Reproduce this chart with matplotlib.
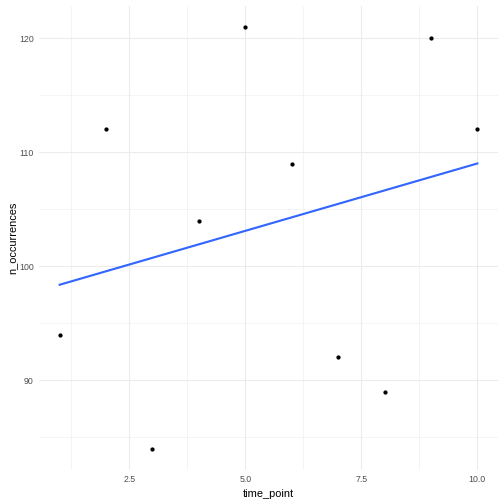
import matplotlib
matplotlib.use("Agg")
import matplotlib.pyplot as plt
import numpy as np
from matplotlib.ticker import MultipleLocator

plt.rcParams["font.family"] = ["Liberation Sans", "DejaVu Sans"]

time_point = [1, 2, 3, 4, 5, 6, 7, 8, 9, 10]
n_occurrences = [94, 112, 84, 104, 121, 109, 92, 89, 120, 112]

x = np.array(time_point, dtype=float)
y = np.array(n_occurrences, dtype=float)
slope, intercept = np.polyfit(x, y, 1)
xfit = np.linspace(x.min(), x.max(), 80)
yfit = intercept + slope * xfit

fig = plt.figure(figsize=(7, 7), dpi=72)
ax = fig.add_axes([0.0770, 0.0679, 0.9885 - 0.0770, 0.9885 - 0.0679])

xpad = (x.max() - x.min()) * 0.05
ypad = (y.max() - y.min()) * 0.05
ax.set_xlim(x.min() - xpad, x.max() + xpad)
ax.set_ylim(y.min() - ypad, y.max() + ypad)

ax.xaxis.set_major_locator(MultipleLocator(2.5))
ax.xaxis.set_minor_locator(MultipleLocator(1.25))
ax.yaxis.set_major_locator(MultipleLocator(10))
ax.yaxis.set_minor_locator(MultipleLocator(5))
ax.grid(which="major", color="#EBEBEB", linewidth=1.07)
ax.grid(which="minor", color="#EBEBEB", linewidth=0.53)
ax.set_axisbelow(True)

for s in ax.spines.values():
    s.set_visible(False)
ax.tick_params(which="both", length=0, labelsize=8.8, labelcolor="#4D4D4D")
ax.tick_params(axis="x", pad=5.5)
ax.tick_params(axis="y", pad=5)
ax.set_xticks([2.5, 5.0, 7.5, 10.0])
ax.set_xticklabels(["2.5", "5.0", "7.5", "10.0"])

ax.scatter(x, y, s=18, color="black", zorder=3, linewidths=0)
ax.plot(xfit, yfit, color="#3366FF", linewidth=2.13, zorder=2)

ax.set_xlabel("time_point", fontsize=11, labelpad=5)
ax.set_ylabel("n_occurrences", fontsize=11, labelpad=2)

fig.savefig("out.png", dpi=72)
